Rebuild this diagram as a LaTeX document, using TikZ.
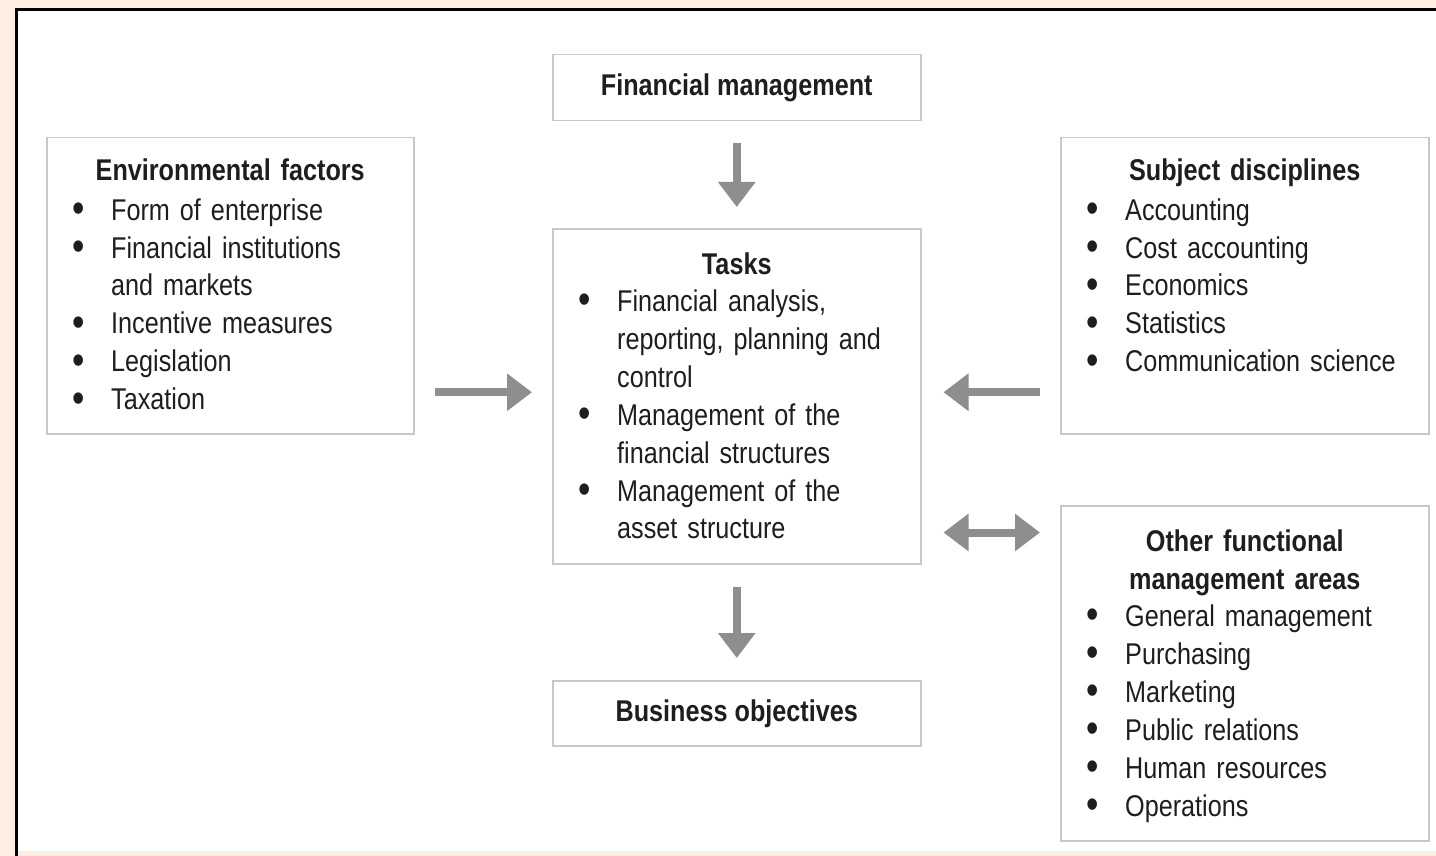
\documentclass[tikz,border=0pt]{standalone}
\usepackage{fontspec}
\setmainfont{Liberation Sans}[FakeStretch=0.84]
\usepackage{graphicx}
\usepackage{tikz}
\usetikzlibrary{positioning,arrows.meta}

\definecolor{peach}{RGB}{253,237,226}
\definecolor{boxgray}{RGB}{200,200,200}
\definecolor{arrgray}{RGB}{142,142,142}
\definecolor{ink}{RGB}{30,30,30}

\newcommand{\bul}{\makebox[39pt][l]{\raisebox{-2.5pt}{\scalebox{1.4}{\textbullet}}}}
\newcommand{\ind}{\hspace*{39pt}}

\tikzset{
	box/.style={draw=boxgray, line width=1.5pt, fill=white, inner sep=0pt,
		anchor=north west, minimum width=368pt, text=ink,
		font=\bfseries\fontsize{30}{38}\selectfont},
	ttl/.style={anchor=base, inner sep=0pt, text width=340pt, align=center, text=ink,
		font=\bfseries\fontsize{30}{38}\selectfont},
	lst/.style={anchor=base west, inner sep=0pt, text width=340pt, align=left, text=ink,
		font=\fontsize{30}{38}\selectfont},
	arr/.style={draw=arrgray, line width=8pt, -{Triangle[length=25pt,width=36pt]}},
	dblarr/.style={draw=arrgray, line width=8pt,
		{Triangle[length=25pt,width=36pt]}-{Triangle[length=25pt,width=36pt]}}
}

\begin{document}
\begin{tikzpicture}[x=1pt, y=-1pt]
	\useasboundingbox (0,0) rectangle (1436,856);
	\fill[peach] (0,0) rectangle (1436,856);
	\fill[white] (15,8) rectangle (1436,851);
	\draw[line width=3pt] (16.5,856) -- (16.5,9.5) -- (1436,9.5);

	% boxes
	\node[box, minimum height=66pt] (fm) at (552,54) {Financial management};
	\node[box, minimum width=367pt, minimum height=296pt] (env) at (46,137) {};
	\node[box, minimum height=335pt] (tasks) at (552,228) {};
	\node[box, minimum height=296pt] (subj) at (1060,137) {};
	\node[box, minimum height=335pt] (other) at (1060,505) {};
	\node[box, minimum height=65pt] (bo) at (552,680) {Business objectives};

	% environmental factors
	\node[ttl] (envT) at ([yshift=-44pt]env.north) {Environmental factors};
	\node[lst] (envL) at ([xshift=26pt, yshift=-83pt]env.north west) {%
		\bul Form of enterprise\\
		\bul Financial institutions\\
		\ind and markets\\
		\bul Incentive measures\\
		\bul Legislation\\
		\bul Taxation};

	% tasks
	\node[ttl] (tasksT) at ([yshift=-46pt]tasks.north) {Tasks};
	\node[lst] (tasksL) at ([xshift=26pt, yshift=-83pt]tasks.north west) {%
		\bul Financial analysis,\\
		\ind reporting, planning and\\
		\ind control\\
		\bul Management of the\\
		\ind financial structures\\
		\bul Management of the\\
		\ind asset structure};

	% subject disciplines
	\node[ttl] (subjT) at ([yshift=-44pt]subj.north) {Subject disciplines};
	\node[lst] (subjL) at ([xshift=26pt, yshift=-83pt]subj.north west) {%
		\bul Accounting\\
		\bul Cost accounting\\
		\bul Economics\\
		\bul Statistics\\
		\bul Communication science};

	% other functional areas
	\node[ttl] (otherT) at ([yshift=-46pt]other.north) {Other functional\\management areas};
	\node[lst] (otherL) at ([xshift=26pt, yshift=-121pt]other.north west) {%
		\bul General management\\
		\bul Purchasing\\
		\bul Marketing\\
		\bul Public relations\\
		\bul Human resources\\
		\bul Operations};

	% arrows
	\coordinate (mid) at ([yshift=4pt]tasks.center);
	\coordinate (dbl) at ([yshift=32pt]tasks.south east);
	\draw[arr, shorten <=22pt, shorten >=21pt] (fm.south) -- (tasks.north);
	\draw[arr, shorten <=22pt, shorten >=22pt] (tasks.south) -- (bo.north);
	\draw[arr, shorten <=20pt, shorten >=20pt] (env.east |- mid) -- (tasks.west |- mid);
	\draw[arr, shorten <=20pt, shorten >=22pt] (subj.west |- mid) -- (tasks.east |- mid);
	\draw[dblarr, shorten <=22pt, shorten >=20pt] (dbl) -- (dbl -| other.west);
\end{tikzpicture}
\end{document}
